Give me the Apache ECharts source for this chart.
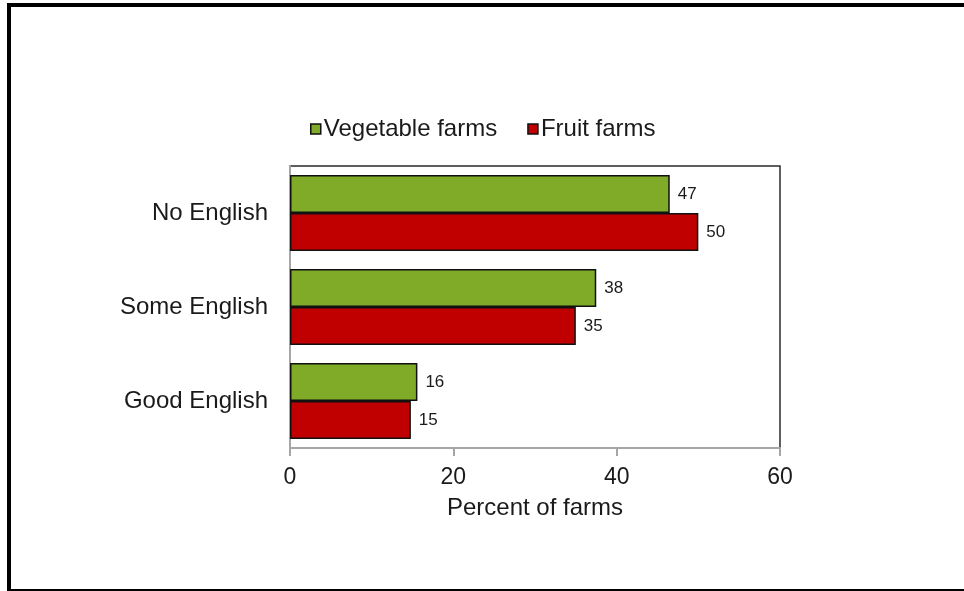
<!DOCTYPE html>
<html>
<head>
<meta charset="UTF-8">
<title>English ability by farm type</title>
<script src="https://cdn.jsdelivr.net/npm/echarts@6/dist/echarts.min.js"></script>
<style>
	html, body { margin: 0; padding: 0; background: #fff; }
	#frame {
		position: absolute; left: 7px; top: 3px; width: 1000px; height: 588px;
		box-sizing: border-box;
		border-left: 4px solid #000; border-top: 4px solid #000; border-bottom: 2px solid #000;
	}
	#main { position: absolute; left: 0; top: 0; width: 964px; height: 591px; }
</style>
</head>
<body>
	<div id="frame"></div>
	<div id="main"></div>

	<script type="text/javascript">
		var categories = [ 'No English', 'Some English', 'Good English' ];
		var vegetableFarms = [ 46.5, 37.5, 15.6 ];
		var fruitFarms = [ 50, 35, 14.8 ];
		var xTicks = [ 0, 20, 40, 60 ];

		var textFont = 'Liberation Sans, Arial, sans-serif';

		var myChart = echarts.init(document.getElementById('main'));
		myChart.setOption({
			animation : false,
			textStyle : { fontFamily : textFont },
			legend : {
				left : 305,
				top : 112,
				icon : 'rect',
				itemWidth : 10,
				itemHeight : 10,
				itemGap : 30,
				itemStyle : { borderColor : '#111', borderWidth : 1.5 },
				textStyle : { fontSize : 24, color : '#1a1a1a', padding : [0, 0, 0, -2] },
				data : [ 'Vegetable farms', 'Fruit farms' ]
			},
			grid : {
				left : 290, right : 184, top : 166, bottom : 143,
				show : true, borderColor : '#2a2a2a', borderWidth : 1.5,
				backgroundColor : '#fff'
			},
			xAxis : {
				type : 'value',
				min : xTicks[0],
				max : xTicks[xTicks.length - 1],
				interval : 20,
				name : 'Percent of farms',
				nameLocation : 'middle',
				nameGap : 48,
				nameTextStyle : { fontSize : 24, color : '#1a1a1a' },
				axisLine : { show : true, lineStyle : { color : '#a6a6a6', width : 2 } },
				axisTick : { show : true, length : 8, lineStyle : { color : '#a6a6a6', width : 2 } },
				axisLabel : { fontSize : 23, color : '#1a1a1a', margin : 18 },
				splitLine : { show : false }
			},
			yAxis : {
				type : 'category',
				inverse : true,
				data : categories,
				axisLine : { show : true, lineStyle : { color : '#a6a6a6', width : 2 } },
				axisTick : { show : false },
				axisLabel : { fontSize : 24, color : '#1a1a1a', margin : 22 }
			},
			series : [ {
				name : 'Vegetable farms',
				type : 'bar',
				barWidth : 38,
				barGap : '0%',
				itemStyle : { color : '#7fab28', borderColor : '#111', borderWidth : 1.5 },
				label : {
					show : true, position : 'right', distance : 8,
					fontSize : 17, color : '#1a1a1a',
					formatter : function(p) { return Math.round(p.value); }
				},
				data : vegetableFarms
			}, {
				name : 'Fruit farms',
				type : 'bar',
				barWidth : 38,
				barGap : '0%',
				itemStyle : { color : '#c00000', borderColor : '#111', borderWidth : 1.5 },
				label : {
					show : true, position : 'right', distance : 8,
					fontSize : 17, color : '#1a1a1a',
					formatter : function(p) { return Math.round(p.value); }
				},
				data : fruitFarms
			} ]
		});
	</script>
</body>
</html>
